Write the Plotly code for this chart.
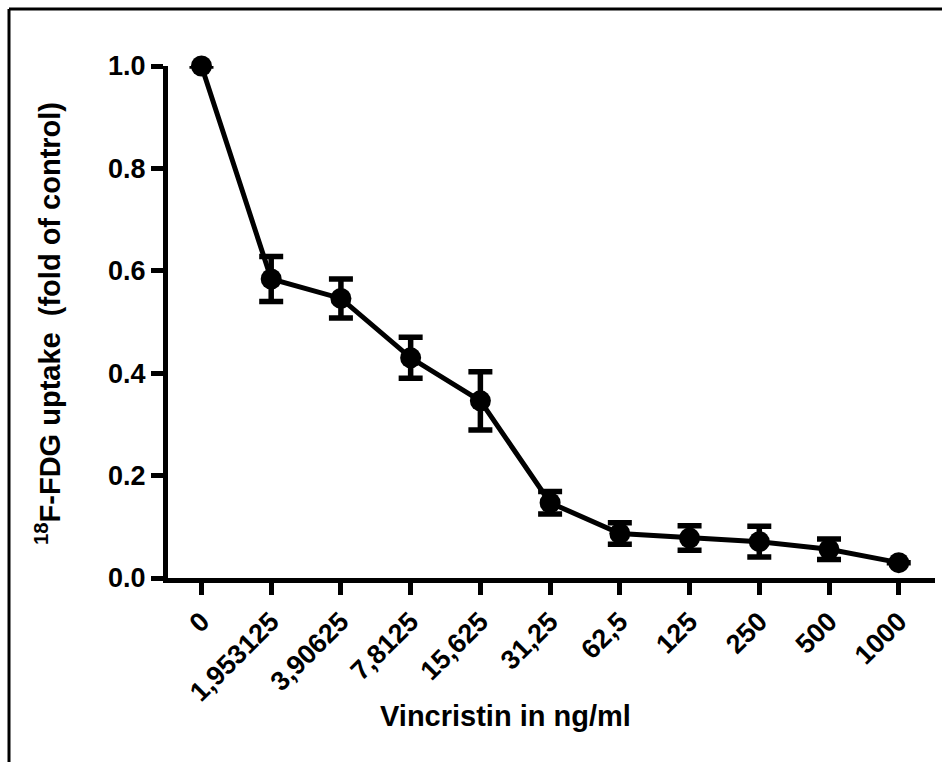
import plotly.graph_objects as go

categories = ["0", "1,953125", "3,90625", "7,8125", "15,625", "31,25",
              "62,5", "125", "250", "500", "1000"]
uptake = [1.0, 0.584, 0.546, 0.430, 0.346, 0.147, 0.087, 0.078, 0.071, 0.056, 0.030]
sem = [0.0, 0.044, 0.038, 0.040, 0.057, 0.022, 0.021, 0.024, 0.030, 0.020, 0.0]
y_ticks = [0.0, 0.2, 0.4, 0.6, 0.8, 1.0]

xpos = list(range(len(categories)))

# pixel layout helpers
W, H = 942, 762
L, R, T, B = 168, 935, 66, 578
def px(x):
    return (x - L) / (R - L)
def py(y):
    return (B - y) / (B - T)

FONT = "Liberation Sans"

fig = go.Figure()
fig.add_trace(go.Scatter(
    x=xpos, y=uptake,
    mode="lines+markers",
    line=dict(color="black", width=5),
    marker=dict(color="black", size=21),
    error_y=dict(type="data", array=sem, visible=True, color="black",
                 thickness=5.5, width=12),
    cliponaxis=False,
    showlegend=False,
))

fig.update_layout(
    width=W, height=H,
    margin=dict(l=L, r=W - R, t=T, b=H - B),
    paper_bgcolor="white", plot_bgcolor="white",
    font=dict(family=FONT, color="black", size=27),
    xaxis=dict(
        range=[-0.48, 10.52],
        tickmode="array", tickvals=xpos, ticktext=[f"<b>{c}</b>" for c in categories],
        tickangle=-45,
        showline=True, linecolor="black", linewidth=5,
        ticks="outside", ticklen=12, tickwidth=4.5, tickcolor="black",
        showgrid=False, zeroline=False,
        tickfont=dict(size=27, family=FONT, color="black"),
    ),
    yaxis=dict(
        range=[0, 1.0],
        tickmode="array", tickvals=y_ticks,
        ticktext=[f"<b>{v:.1f}</b>" for v in y_ticks],
        showline=True, linecolor="black", linewidth=5,
        ticks="outside", ticklen=12, tickwidth=4.5, tickcolor="black",
        showgrid=False, zeroline=False,
        tickfont=dict(size=27, family=FONT, color="black"),
    ),
)

fig.add_annotation(
    text="<b>Vincristin in ng/ml</b>",
    xref="paper", yref="paper", x=px(505), y=py(716),
    showarrow=False, font=dict(size=29, family=FONT, color="black"),
    xanchor="center", yanchor="middle",
)
fig.add_annotation(
    text="<b><sup>18</sup>F-FDG uptake \u00a0(fold of control)</b>",
    xref="paper", yref="paper", x=px(48), y=py(324),
    showarrow=False, textangle=-90,
    font=dict(size=29, family=FONT, color="black"),
    xanchor="center", yanchor="middle",
)

# outer frame (top and left edges)
fig.add_shape(type="line", xref="paper", yref="paper",
              x0=px(9), x1=px(W + 5), y0=py(9), y1=py(9),
              line=dict(color="black", width=3))
fig.add_shape(type="line", xref="paper", yref="paper",
              x0=px(9), x1=px(9), y0=py(9), y1=py(H + 5),
              line=dict(color="black", width=3))

fig.write_html("out.html")
